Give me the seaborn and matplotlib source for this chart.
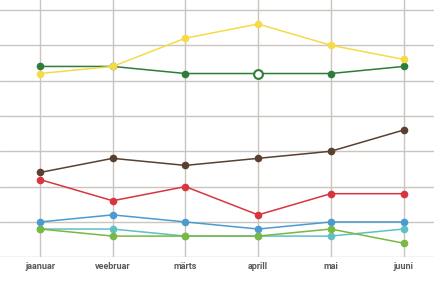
import matplotlib
matplotlib.use("Agg")
import matplotlib.pyplot as plt
import seaborn as sns
import pandas as pd

months = ["jaanuar", "veebruar", "märts", "aprill", "mai", "juuni"]
series_names = ["roheline", "kollane", "pruun", "punane", "sinine", "türkiis", "heleroheline"]
dark_green = [27, 27, 26, 26, 26, 27]
yellow = [26, 27, 31, 33, 30, 28]
brown = [12, 14, 13, 14, 15, 18]
red = [11, 8, 10, 6, 9, 9]
blue = [5, 6, 5, 4, 5, 5]
teal = [4, 4, 3, 3, 3, 4]
light_green = [4, 3, 3, 3, 4, 2]
colors = ["#2E7D3A", "#F7DA48", "#5B4032", "#D9353F", "#4B9BD1", "#5FC0C3", "#78B843"]
hollow_series = "roheline"
hollow_month = "aprill"

values = [dark_green, yellow, brown, red, blue, teal, light_green]
rows = []
for name, vals in zip(series_names, values):
    for i, (m, v) in enumerate(zip(months, vals)):
        rows.append({"kuu": m, "idx": i, "seeria": name, "vaartus": v})
df = pd.DataFrame(rows)

sns.set_theme(style="white")
plt.rcParams["font.family"] = ["Roboto", "DejaVu Sans"]

fig = plt.figure(figsize=(4.35, 2.9), dpi=100)
ax = fig.add_axes([0, 1 - 257.3 / 290, 1, 257.3 / 290])

palette = dict(zip(series_names, colors))
sns.lineplot(data=df, x="idx", y="vaartus", hue="seeria", palette=palette,
             hue_order=series_names, marker="o", markersize=5.5, markeredgewidth=0,
             linewidth=1.1, legend=False, ax=ax, zorder=3)

# hollow marker
h = df[(df.seeria == hollow_series) & (df.kuu == hollow_month)]
sns.scatterplot(data=h, x="idx", y="vaartus", s=40, facecolor="white",
                edgecolor=palette[hollow_series], linewidth=1.5, ax=ax, zorder=5, legend=False)

ax.set_xlim(-0.55, 5.433)
ax.set_ylim(0, 36.4)
ax.set_xticks(range(len(months)))
ax.set_xticklabels(months, fontsize=6.5, fontweight="bold", color="#5a5a5a")
ax.set_yticks(range(0, 36, 5))
ax.set_yticklabels([])
ax.tick_params(axis="both", length=0, pad=3.5)
ax.grid(True, color="#c9c5c1", linewidth=1.0)
ax.set_axisbelow(True)
for s in ax.spines.values():
    s.set_visible(False)
ax.set_xlabel("")
ax.set_ylabel("")

fig.savefig("out.png", dpi=100)
